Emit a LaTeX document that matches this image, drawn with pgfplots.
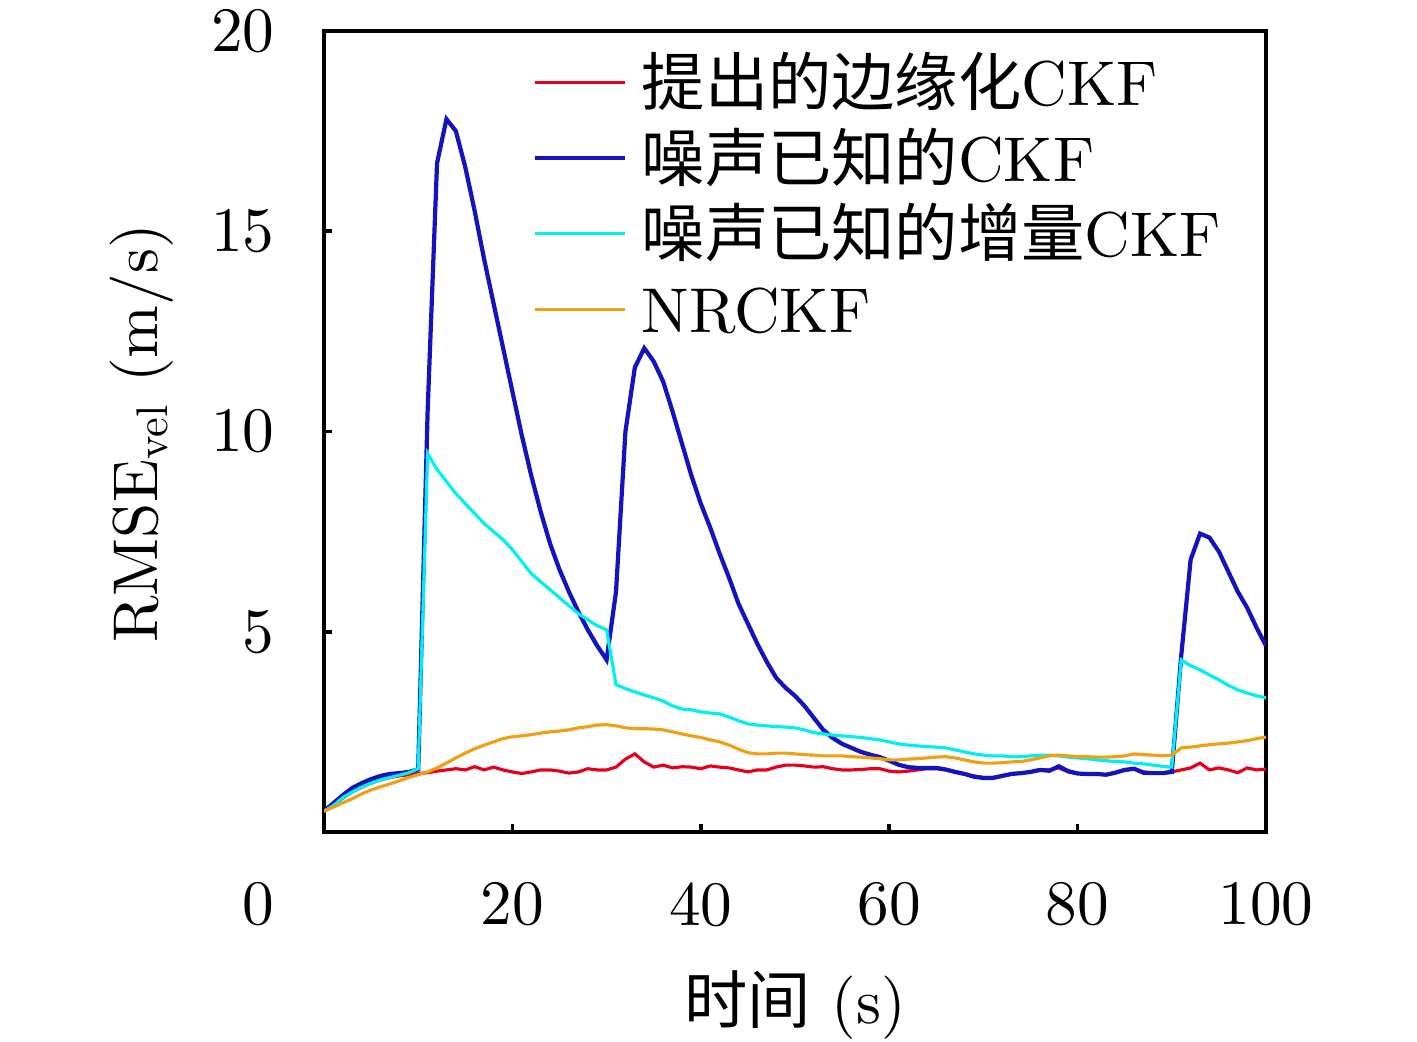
\documentclass[border=0pt]{standalone}
\usepackage{fontspec}
\usepackage{pgfplots}
\usepackage{pgfplotstable}
\pgfplotsset{compat=1.18}
\setmainfont{lmroman10-regular.otf}
\newfontfamily\cjk{Noto Sans CJK SC}
\definecolor{cred}{RGB}{230,0,30}
\definecolor{cblue}{RGB}{20,20,190}
\definecolor{ccyan}{RGB}{0,240,240}
\definecolor{corange}{RGB}{240,160,20}

\pgfplotstableread{
x y
0 0.52
1 0.65
2 0.85
3 1.0
4 1.12
5 1.22
6 1.3
7 1.36
8 1.4
9 1.43
10 1.46
11 1.48
12 1.52
13 1.55
14 1.58
15 1.55
16 1.63
17 1.55
18 1.62
19 1.55
20 1.5
21 1.46
22 1.5
23 1.55
24 1.55
25 1.52
26 1.47
27 1.5
28 1.58
29 1.55
30 1.55
31 1.62
32 1.82
33 1.95
34 1.75
35 1.62
36 1.67
37 1.6
38 1.63
39 1.62
40 1.58
41 1.65
42 1.62
43 1.6
44 1.55
45 1.5
46 1.55
47 1.55
48 1.62
49 1.67
50 1.67
51 1.65
52 1.62
53 1.63
54 1.58
55 1.55
56 1.55
57 1.56
58 1.58
59 1.58
60 1.52
61 1.5
62 1.52
63 1.55
64 1.58
65 1.58
66 1.55
67 1.5
68 1.45
69 1.4
70 1.36
71 1.36
72 1.4
73 1.45
74 1.47
75 1.5
76 1.54
77 1.55
78 1.6
79 1.5
80 1.46
81 1.45
82 1.45
83 1.43
84 1.48
85 1.55
86 1.57
87 1.5
88 1.47
89 1.47
90 1.5
91 1.55
92 1.6
93 1.72
94 1.55
95 1.6
96 1.55
97 1.48
98 1.6
99 1.55
100 1.57
}\redtab

\pgfplotstableread{
x y
0 0.52
1 0.72
2 0.92
3 1.1
4 1.22
5 1.32
6 1.4
7 1.45
8 1.47
9 1.5
10 1.56
11 10.5
12 16.7
13 17.8
14 17.5
15 16.6
16 15.5
17 14.3
18 13.2
19 12.1
20 11.0
21 9.9
22 8.9
23 8.0
24 7.2
25 6.55
26 6.0
27 5.5
28 5.05
29 4.65
30 4.3
31 6.0
32 10.0
33 11.6
34 12.08
35 11.75
36 11.25
37 10.5
38 9.7
39 8.9
40 8.2
41 7.6
42 6.95
43 6.35
44 5.7
45 5.2
46 4.7
47 4.25
48 3.85
49 3.6
50 3.4
51 3.15
52 2.85
53 2.55
54 2.35
55 2.2
56 2.1
57 2.0
58 1.93
59 1.87
60 1.78
61 1.68
62 1.62
63 1.6
64 1.6
65 1.6
66 1.56
67 1.5
68 1.45
69 1.38
70 1.35
71 1.35
72 1.4
73 1.45
74 1.47
75 1.5
76 1.55
77 1.53
78 1.64
79 1.52
80 1.46
81 1.45
82 1.45
83 1.43
84 1.48
85 1.55
86 1.58
87 1.48
88 1.47
89 1.47
90 1.5
91 4.4
92 6.8
93 7.45
94 7.35
95 7.0
96 6.5
97 6.0
98 5.6
99 5.1
100 4.65
}\bluetab

\pgfplotstableread{
x y
0 0.52
1 0.66
2 0.86
3 1.0
4 1.12
5 1.22
6 1.3
7 1.36
8 1.42
9 1.48
10 1.58
11 9.45
12 9.05
13 8.75
14 8.45
15 8.2
16 7.95
17 7.7
18 7.5
19 7.3
20 7.05
21 6.75
22 6.45
23 6.25
24 6.05
25 5.85
26 5.65
27 5.45
28 5.3
29 5.15
30 5.05
31 3.68
32 3.58
33 3.5
34 3.42
35 3.35
36 3.27
37 3.15
38 3.07
39 3.05
40 3.0
41 2.97
42 2.95
43 2.87
44 2.78
45 2.7
46 2.67
47 2.65
48 2.63
49 2.62
50 2.6
51 2.55
52 2.48
53 2.45
54 2.42
55 2.4
56 2.38
57 2.36
58 2.33
59 2.3
60 2.25
61 2.2
62 2.17
63 2.15
64 2.13
65 2.12
66 2.1
67 2.05
68 2.0
69 1.95
70 1.92
71 1.9
72 1.9
73 1.88
74 1.88
75 1.9
76 1.92
77 1.92
78 1.9
79 1.87
80 1.85
81 1.83
82 1.8
83 1.78
84 1.76
85 1.75
86 1.72
87 1.7
88 1.67
89 1.64
90 1.62
91 4.3
92 4.15
93 4.05
94 3.92
95 3.8
96 3.66
97 3.55
98 3.47
99 3.4
100 3.35
}\cyantab

\pgfplotstableread{
x y
0 0.52
1 0.62
2 0.73
3 0.83
4 0.95
5 1.05
6 1.13
7 1.2
8 1.28
9 1.36
10 1.43
11 1.5
12 1.6
13 1.72
14 1.85
15 1.97
16 2.08
17 2.17
18 2.25
19 2.33
20 2.38
21 2.4
22 2.43
23 2.47
24 2.5
25 2.52
26 2.55
27 2.6
28 2.63
29 2.67
30 2.68
31 2.65
32 2.6
33 2.58
34 2.58
35 2.57
36 2.55
37 2.5
38 2.45
39 2.4
40 2.36
41 2.3
42 2.25
43 2.17
44 2.07
45 1.98
46 1.95
47 1.95
48 1.97
49 1.97
50 1.95
51 1.93
52 1.92
53 1.9
54 1.9
55 1.9
56 1.88
57 1.87
58 1.85
59 1.83
60 1.8
61 1.8
62 1.82
63 1.83
64 1.85
65 1.87
66 1.88
67 1.85
68 1.8
69 1.75
70 1.72
71 1.72
72 1.73
73 1.75
74 1.76
75 1.8
76 1.85
77 1.9
78 1.92
79 1.9
80 1.88
81 1.88
82 1.87
83 1.87
84 1.88
85 1.9
86 1.95
87 1.93
88 1.92
89 1.9
90 1.92
91 2.1
92 2.12
93 2.15
94 2.18
95 2.2
96 2.22
97 2.25
98 2.28
99 2.33
100 2.37
}\orangetab

\begin{document}
\fontsize{18}{22}\selectfont
\begin{tikzpicture}
\useasboundingbox (-3.24,-2.10) rectangle (10.93,8.32);
\begin{axis}[
  name=ax, at={(0,0)}, anchor=south west,
  width=9.42cm, height=8.01cm, scale only axis,
  xmin=0, xmax=100, ymin=0, ymax=20,
  xtick={20,40,60,80,100}, ytick={5,10,15,20},
  tick align=inside, xtick pos=bottom, ytick pos=left,
  major tick length=0.08cm,
  axis line style={line width=1pt},
  every tick/.style={black, line width=1pt},
  /pgf/number format/assume math mode=true,
  xticklabel style={inner sep=0pt, anchor=north, yshift=-0.5cm},
  yticklabel style={inner sep=0pt, anchor=east, xshift=-0.49cm},
  legend cell align=left,
  legend style={draw=none, fill=none, at={(0.2208,0.9835)}, anchor=north west,
    inner sep=0pt, row sep=0pt, column sep=0.15cm,
    nodes={inner sep=0pt, text height=0.608cm, text depth=0.148cm, anchor=west}},
  legend image code/.code={\draw[#1] (0cm,0cm) -- (0.9cm,0cm);},
]
\addplot[cred, line width=0.9pt] table[x=x,y=y] {\redtab};
\addlegendentry{{\cjk 提出的边缘化}CKF}
\addplot[cblue, line width=1.2pt] table[x=x,y=y] {\bluetab};
\addlegendentry{{\cjk 噪声已知的}CKF}
\addplot[ccyan, line width=0.9pt] table[x=x,y=y] {\cyantab};
\addlegendentry{{\cjk 噪声已知的增量}CKF}
\addplot[corange, line width=0.9pt] table[x=x,y=y] {\orangetab};
\addlegendentry{NRCKF}
\end{axis}
\node[anchor=north east, inner sep=0pt] at ([xshift=-0.49cm,yshift=-0.5cm]ax.south west) {0};
\node[rotate=90, anchor=base, inner sep=0pt] at ([xshift=-1.66cm,yshift=-0.02cm]ax.west) {RMSE\textsubscript{vel} (m/s)};
\node[anchor=base, inner sep=0pt] at ([yshift=-1.91cm]ax.south) {{\cjk 时间} (s)};
\end{tikzpicture}
\end{document}
